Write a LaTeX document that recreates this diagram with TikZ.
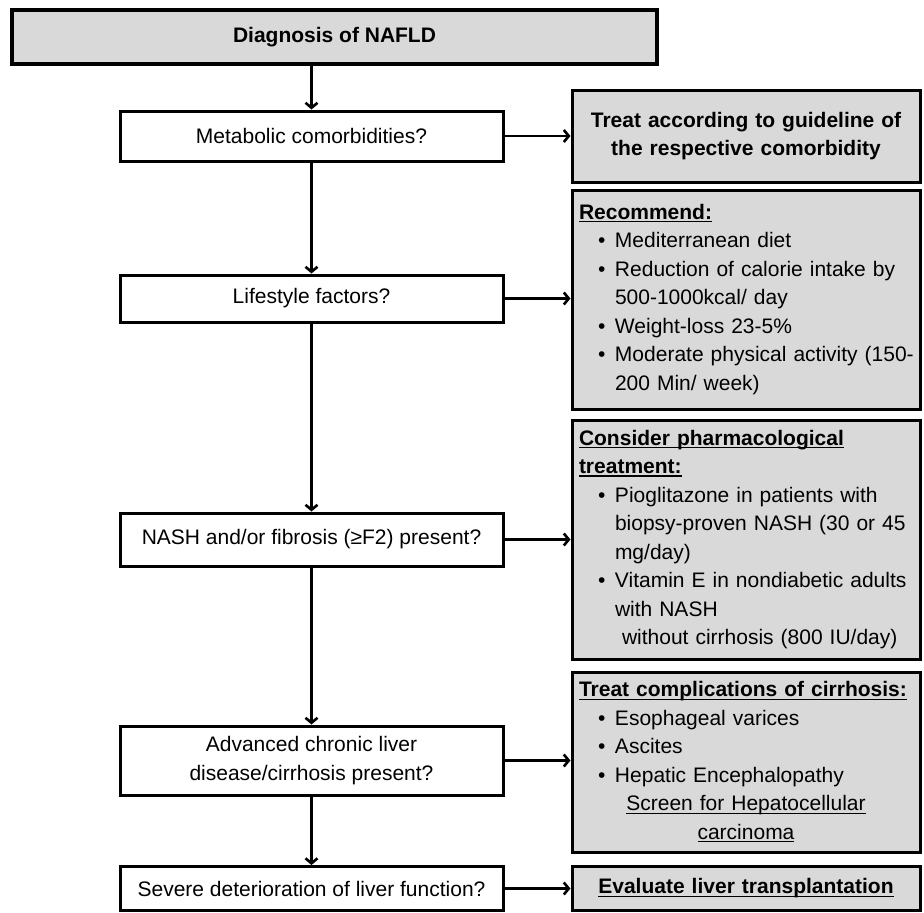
\documentclass[tikz,border=0pt]{standalone}
\usepackage{fontspec}
\setmainfont{Liberation Sans}
\usepackage{tikz}
\usetikzlibrary{arrows.meta}
\pgfdeclarelayer{edgelayer}
\pgfdeclarelayer{nodelayer}
\pgfsetlayers{edgelayer,nodelayer,main}
\tikzstyle{none}=[inner sep=0pt]
\tikzstyle{start}=[draw, line width=4pt, fill=gray!30, minimum width=645pt, minimum height=54pt, font=\fontsize{21}{28.5}\selectfont\bfseries]
\tikzstyle{question}=[draw, line width=3pt, fill=white, minimum width=383pt, align=center, font=\fontsize{21}{28.5}\selectfont]
\tikzstyle{action}=[draw, line width=3pt, fill=gray!30, minimum width=348pt, text width=334pt, inner xsep=7pt, align=left, font=\fontsize{21}{28.5}\selectfont]
\tikzstyle{arrow}=[line width=2.6pt, -{Straight Barb[length=5pt,width=12pt]}]
\newsavebox\undlbox
\newcommand{\undl}[1]{\leavevmode\sbox\undlbox{#1}\rlap{\rule[-3pt]{\wd\undlbox}{1.3pt}}\usebox\undlbox}
\newcommand{\itm}{\leavevmode\hspace*{19pt}\makebox[17pt][l]{•}}
\newcommand{\cont}{\leavevmode\hspace*{36pt}}

\begin{document}
\begin{tikzpicture}[x=1pt, y=-1pt]
	\useasboundingbox (0, 0) rectangle (924, 913);
	\begin{pgfonlayer}{nodelayer}
		\node [style=start] (0) at (334.5, 37) {Diagnosis of NAFLD};
		\node [style=question, minimum height=50pt] (1) at (311.5, 136) {Metabolic comorbidities?};
		\node [style=action, align=center, minimum height=92pt, font=\fontsize{21}{28.5}\selectfont\bfseries] (2) at (746, 136) {Treat according to guideline of\\ the respective comorbidity};
		\node [style=question, minimum height=47pt] (3) at (311.5, 298.5) {Lifestyle factors?};
		\node [style=action, minimum height=219pt] (4) at (746, 299.5) {\undl{\textbf{Recommend:}}\\ \itm Mediterranean diet\\ \itm\mbox{Reduction of calorie intake by}\\ \cont 500-1000kcal/ day\\ \itm Weight-loss 23-5\%\\ \itm\mbox{Moderate physical activity (150-}\\ \cont 200 Min/ week)};
		\node [style=question, minimum height=53pt] (5) at (311.5, 539.5) {NASH and/or fibrosis (≥F2) present?};
		\node [style=action, minimum height=239pt] (6) at (746, 539.5) {\undl{\textbf{Consider pharmacological}}\\ \undl{\textbf{treatment:}}\\ \itm\mbox{Pioglitazone in patients with}\\ \cont\mbox{biopsy-proven NASH (30 or 45}\\ \cont mg/day)\\ \itm\mbox{Vitamin E in nondiabetic adults}\\ \cont with NASH\\ \leavevmode\hspace*{43pt}\mbox{without cirrhosis (800 IU/day)}};
		\node [style=question, minimum height=69pt] (7) at (311.5, 760.5) {Advanced chronic liver\\ disease/cirrhosis present?};
		\node [style=action, minimum height=180pt] (8) at (746, 762) {\undl{\textbf{Treat complications of cirrhosis:}}\\ \itm Esophageal varices\\ \itm Ascites\\ \itm Hepatic Encephalopathy\\ \makebox[334pt][c]{\undl{Screen for Hepatocellular}}\\ \makebox[334pt][c]{\undl{carcinoma}}};
		\node [style=question, minimum height=44pt] (9) at (311.5, 888.5) {Severe deterioration of liver function?};
		\node [style=action, align=center, minimum height=44pt] (10) at (746, 888.5) {\undl{\textbf{Evaluate liver transplantation}}};
	\end{pgfonlayer}
	\begin{pgfonlayer}{edgelayer}
		\draw [style=arrow] (0.south -| 1.north) to (1.north);
		\draw [style=arrow] (1.east) to (1.east -| 2.west);
		\draw [style=arrow] (1.south) to (3.north);
		\draw [style=arrow] (3.east) to (3.east -| 4.west);
		\draw [style=arrow] (3.south) to (5.north);
		\draw [style=arrow] (5.east) to (5.east -| 6.west);
		\draw [style=arrow] (5.south) to (7.north);
		\draw [style=arrow] (7.east) to (7.east -| 8.west);
		\draw [style=arrow] (7.south) to (9.north);
		\draw [style=arrow] (9.east) to (9.east -| 10.west);
	\end{pgfonlayer}
\end{tikzpicture}
\end{document}
